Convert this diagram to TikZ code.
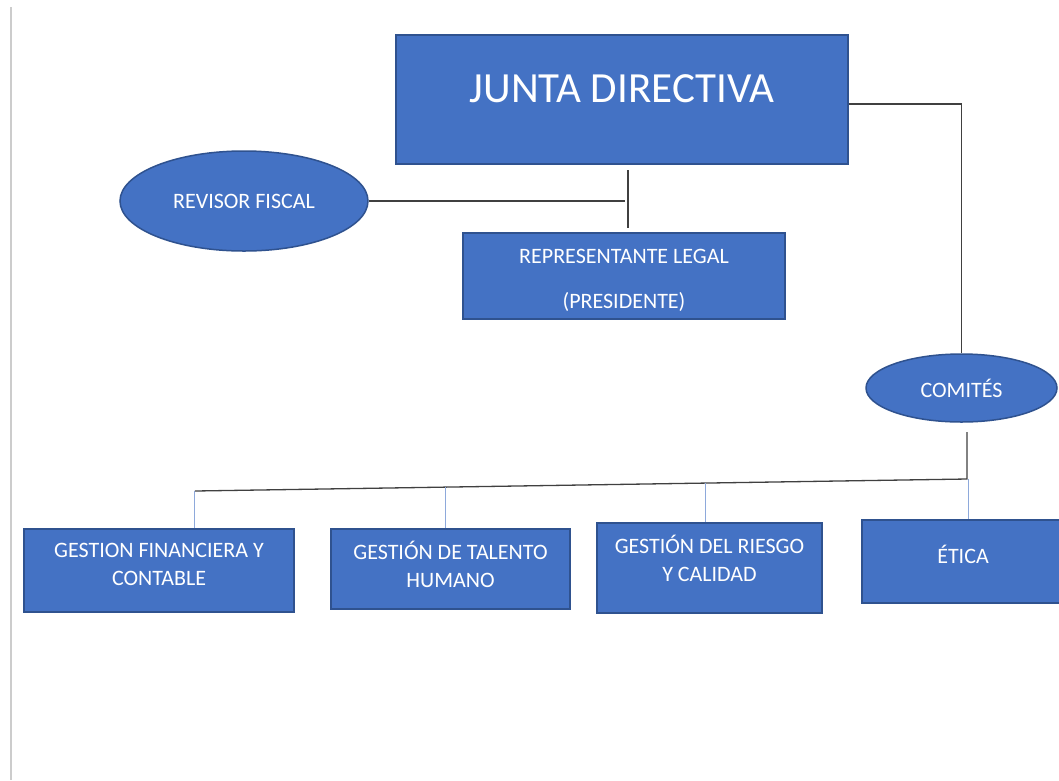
\documentclass[tikz,border=0pt]{standalone}
\usepackage{fontspec}
\setmainfont{Carlito}
\usetikzlibrary{shapes.geometric,calc}

\definecolor{boxblue}{HTML}{4472C4}
\definecolor{boxedge}{HTML}{2F528F}
\definecolor{linegray}{HTML}{404040}
\definecolor{droplink}{HTML}{8EA9DB}

\begin{document}
\begin{tikzpicture}[x=1pt, y=-1pt,
  box/.style={draw=boxedge, line width=1.5pt, fill=boxblue, text=white, align=center, font=\fontsize{22}{28}\selectfont},
  oval/.style={ellipse, draw=boxedge, line width=1.5pt, fill=boxblue, text=white, inner sep=0pt, font=\fontsize{22}{28}\selectfont},
  link/.style={draw=linegray, line width=1.3pt},
  drop/.style={draw=droplink, line width=1pt}]
\clip (0,0) rectangle (1059,780);
\fill[white] (0,0) rectangle (1059,780);

% page margin line
\draw[gray!40, line width=2pt] (11,7) -- (11,780);

% Top
\node[box, minimum width=452, minimum height=129, text height=30pt, text depth=24.6pt, font=\fontsize{43}{50}\selectfont] (junta) at (622,99.5) {JUNTA DIRECTIVA};
\node[oval, minimum width=248, minimum height=100] (revisor) at (244,201) {REVISOR FISCAL};
\node[box, minimum width=322, minimum height=86, text height=64.2pt, text depth=0pt] (rep) at (624,276) {REPRESENTANTE LEGAL\\[17pt](PRESIDENTE)};
\node[oval, minimum width=191, minimum height=68] (comites) at (961.5,388) {COMITÉS};

% Bottom
\node[box, minimum width=270, minimum height=83, text height=30.2pt, text depth=0pt] (gfin) at (159,570.5) {GESTION FINANCIERA Y\\CONTABLE};
\node[box, minimum width=239, minimum height=80, text height=37.2pt, text depth=0pt] (talento) at (450.5,569) {GESTIÓN DE TALENTO\\HUMANO};
\node[box, minimum width=225, minimum height=90, text height=26.2pt, text depth=0pt] (riesgo) at (709.5,568) {GESTIÓN DEL RIESGO\\Y CALIDAD};
\node[box, minimum width=202, minimum height=83, text height=15pt, text depth=11.8pt] (etica) at (963,561.5) {ÉTICA};

% Junction points
\coordinate (jtop) at (628,170);
\coordinate (jbot) at (628,228);
\coordinate (jmid) at (625,201);
\coordinate (cbot) at (967,432);
\coordinate (busr) at (967,479);
\coordinate (busl) at (195,491);
\coordinate (d1) at ($(busl)!(195,500)!(busr)$);
\coordinate (d2) at ($(busl)!(446,500)!(busr)$);
\coordinate (d3) at ($(busl)!(706,500)!(busr)$);
\coordinate (d4) at ($(busl)!(969,500)!(busr)$);

% Lines
\draw[link] (jtop) -- (jbot);
\draw[link] (revisor.east) -- (jmid);
\draw[link] (junta.east |- 0,104) -| (comites.north);
\draw[link] (cbot) -- (busr) -- (busl);

\draw[drop] (d1) -- (d1 |- gfin.north);
\draw[drop] (d2) -- (d2 |- talento.north);
\draw[drop] (d3) -- (d3 |- riesgo.north);
\draw[drop] (d4) -- (d4 |- etica.north);
\end{tikzpicture}
\end{document}
